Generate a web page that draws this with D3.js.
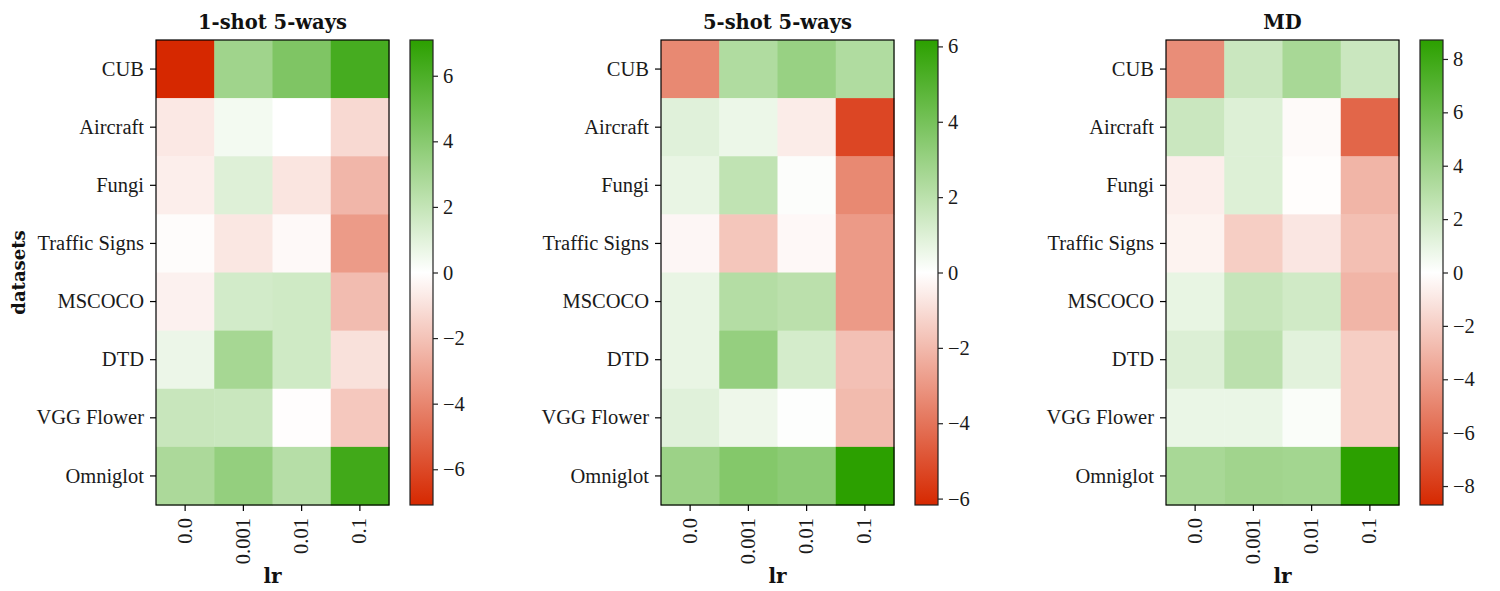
<!DOCTYPE html>
<html>
<head>
<meta charset="utf-8">
<script src="https://cdn.jsdelivr.net/npm/d3@7"></script>
<style>
  html, body { margin: 0; padding: 0; background: #fff; }
  svg { display: block; }
</style>
</head>
<body>
<svg id="chart" width="1500" height="591"></svg>
<script>
const datasets = ["CUB", "Aircraft", "Fungi", "Traffic Signs", "MSCOCO", "DTD", "VGG Flower", "Omniglot"];
const lrs = ["0.0", "0.001", "0.01", "0.1"];
const titles = ["1-shot 5-ways", "5-shot 5-ways", "MD"];

// rows = datasets, columns = lr
const oneShot = [
  [-7.09, 3.2, 4.3, 6.2],
  [-0.75, 0.4, 0.0, -1.25],
  [-0.55, 1.1, -0.85, -2.4],
  [-0.1, -0.8, -0.2, -3.3],
  [-0.45, 1.5, 1.6, -2.2],
  [0.65, 3.0, 1.6, -1.0],
  [1.85, 1.8, -0.05, -1.8],
  [2.8, 3.6, 2.45, 6.4]
];
const fiveShot = [
  [-3.4, 2.3, 3.0, 2.3],
  [0.9, 0.55, -0.55, -5.3],
  [0.65, 1.85, 0.1, -3.4],
  [-0.25, -1.65, -0.2, -2.9],
  [0.65, 2.2, 2.0, -2.9],
  [0.65, 3.1, 1.25, -1.8],
  [0.9, 0.5, 0.05, -1.95],
  [2.9, 3.6, 3.35, 6.17]
];
const md = [
  [-4.6, 2.2, 3.6, 2.2],
  [2.2, 1.4, -0.2, -6.2],
  [-0.7, 1.4, -0.1, -3.0],
  [-0.5, -2.0, -1.0, -2.6],
  [0.95, 2.35, 1.95, -3.0],
  [1.45, 2.8, 1.2, -2.0],
  [0.85, 0.85, 0.2, -2.0],
  [3.6, 3.9, 3.8, 8.71]
];
const panelData = [oneShot, fiveShot, md];
const cbarTicks = [[-6, -4, -2, 0, 2, 4, 6], [-6, -4, -2, 0, 2, 4, 6], [-8, -6, -4, -2, 0, 2, 4, 6, 8]];

const svg = d3.select("#chart");
const defs = svg.append("defs");
const plotTop = 40, H = 465, W = 233;
const lefts = [156, 661, 1166];
const fs = 20.5;
const serif = "'Liberation Serif', serif";
const boldSerif = "'DejaVu Serif', serif";
const fmt = d => (d < 0 ? "\u2212" + Math.abs(d) : String(d));

panelData.forEach((data, p) => {
  const left = lefts[p];
  const vmax = d3.max(data.flat(), v => Math.abs(v));
  const color = d3.scaleLinear().domain([-vmax, 0, vmax]).range(["#d62800", "#ffffff", "#2ca000"]);
  const x = d3.scaleBand().domain(lrs).range([0, W]);
  const y = d3.scaleBand().domain(datasets).range([0, H]);
  const g = svg.append("g").attr("transform", `translate(${left},${plotTop})`);

  const cells = [];
  data.forEach((row, i) => row.forEach((v, j) => cells.push({ ds: datasets[i], lr: lrs[j], v })));
  g.selectAll("rect.cell").data(cells).join("rect")
    .attr("class", "cell")
    .attr("x", d => x(d.lr)).attr("y", d => y(d.ds))
    .attr("width", x.bandwidth() + 0.5).attr("height", y.bandwidth() + 0.5)
    .attr("fill", d => color(d.v));
  g.append("rect").attr("width", W).attr("height", H)
    .attr("fill", "none").attr("stroke", "#000").attr("stroke-width", 1.2);

  // y axis
  const ya = g.append("g").call(d3.axisLeft(y).tickSize(6).tickPadding(6));
  ya.select(".domain").remove();
  ya.selectAll("line").attr("stroke", "#000").attr("stroke-width", 1.2);
  ya.selectAll("text").style("font-family", serif).style("font-size", fs + "px").attr("fill", "#1a1a1a");

  // x axis
  const xa = g.append("g").attr("transform", `translate(0,${H})`).call(d3.axisBottom(x).tickSize(6).tickPadding(6));
  xa.select(".domain").remove();
  xa.selectAll("line").attr("stroke", "#000").attr("stroke-width", 1.2);
  xa.selectAll("text").style("font-family", serif).style("font-size", fs + "px").attr("fill", "#1a1a1a")
    .attr("transform", "rotate(-90)")
    .attr("text-anchor", "end").attr("dy", "0.32em").attr("dx", 0).attr("y", 0).attr("x", -13);

  // title
  g.append("text").attr("x", W / 2).attr("y", -11).attr("text-anchor", "middle")
    .style("font-family", boldSerif).style("font-size", "19.5px").style("font-weight", "bold")
    .attr("fill", "#111").text(titles[p]);
  // x label
  g.append("text").attr("x", W / 2).attr("y", H + 78).attr("text-anchor", "middle")
    .style("font-family", boldSerif).style("font-size", "20px").style("font-weight", "bold")
    .attr("fill", "#111").text("lr");
  if (p === 0) {
    g.append("text").attr("transform", `translate(${-131},${H / 2}) rotate(-90)`)
      .attr("text-anchor", "middle")
      .style("font-family", boldSerif).style("font-size", "18px").style("font-weight", "bold")
      .attr("fill", "#111").text("datasets");
  }

  // colorbar
  const cbx = left + 254, cbw = 23;
  const gradId = "grad" + p;
  const grad = defs.append("linearGradient").attr("id", gradId)
    .attr("x1", 0).attr("y1", 1).attr("x2", 0).attr("y2", 0);
  d3.range(0, 1.0001, 0.05).forEach(t => {
    grad.append("stop").attr("offset", t).attr("stop-color", color(-vmax + 2 * vmax * t));
  });
  const cy = d3.scaleLinear().domain([-vmax, vmax]).range([plotTop + H, plotTop]);
  svg.append("rect").attr("x", cbx).attr("y", plotTop).attr("width", cbw).attr("height", H)
    .attr("fill", `url(#${gradId})`).attr("stroke", "#222").attr("stroke-width", 1.2);
  const ca = svg.append("g").attr("transform", `translate(${cbx + cbw},0)`)
    .call(d3.axisRight(cy).tickValues(cbarTicks[p]).tickFormat(fmt).tickSize(5).tickPadding(5));
  ca.select(".domain").remove();
  ca.selectAll("line").attr("stroke", "#222").attr("stroke-width", 1.2);
  ca.selectAll("text").style("font-family", serif).style("font-size", fs + "px").attr("fill", "#1a1a1a");
});
</script>
</body>
</html>
